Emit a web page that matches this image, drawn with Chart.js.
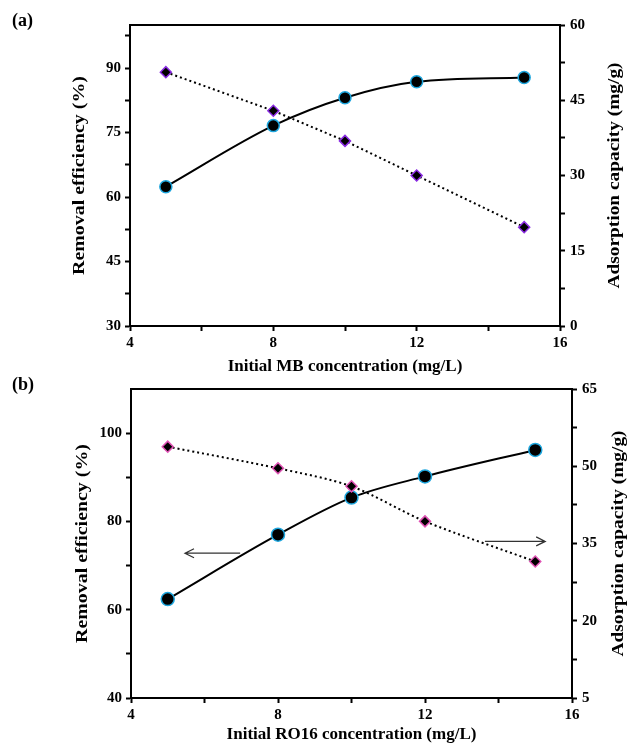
<!DOCTYPE html>
<html>
<head>
<meta charset="UTF-8" />
<title>Removal efficiency and adsorption capacity</title>
<script src="https://cdn.jsdelivr.net/npm/chart.js"></script>
<style>
  body { margin: 0; background: #fff; }
  .panel { position: absolute; left: 0; width: 628px; }
  #panelA { top: 0; height: 375px; }
  #panelB { top: 375px; height: 368px; }
</style>
</head>
<body>
<div class="panel" id="panelA"><canvas id="chartA"></canvas></div>
<div class="panel" id="panelB"><canvas id="chartB"></canvas></div>
<script>
// panel (a) - MB
const concA = [5, 8, 10, 12, 15];
const removalA = [62.4, 76.6, 83.1, 86.8, 87.8];
const capacityA = [50.6, 42.9, 36.9, 30.0, 19.7];

// panel (b) - RO16
const concB = [5, 8, 10, 12, 15];
const removalB = [62.4, 77.0, 85.4, 90.2, 96.2];
const capacityB = [53.8, 49.6, 46.1, 39.3, 31.5];

// ticks (all marks) and the ones that get a label
const xTicks = [4, 6, 8, 10, 12, 14, 16];
const xLabels = [4, 8, 12, 16];
const leftTicksA = [30, 37.5, 45, 52.5, 60, 67.5, 75, 82.5, 90, 97.5];
const leftLabelsA = [30, 45, 60, 75, 90];
const rightTicksA = [0, 7.5, 15, 22.5, 30, 37.5, 45, 52.5, 60];
const rightLabelsA = [0, 15, 30, 45, 60];
const leftTicksB = [40, 50, 60, 70, 80, 90, 100];
const leftLabelsB = [40, 60, 80, 100];
const rightTicksB = [5, 12.5, 20, 27.5, 35, 42.5, 50, 57.5, 65];
const rightLabelsB = [5, 20, 35, 50, 65];

// arrows in (b): [from x, to x, y] (left one on removal axis, right one on capacity axis)
const arrowLeftB = [6.97, 5.47, 72.8];
const arrowRightB = [13.63, 15.27, 35.4];

const FONT = "'Liberation Serif', 'Times New Roman', serif";
const tickFont = { family: FONT, size: 15, weight: 'bold' };
const titleFont = { family: FONT, size: 17, weight: 'bold', lineHeight: 1 };

function axisLine() {
  return { color: '#000', width: 2 };
}
function gridOpts() {
  return { drawOnChartArea: false, tickLength: 5, tickWidth: 2, tickColor: '#000' };
}

// vertical text, stretched a bit along its length like the original figure
function vText(ctx, text, x, y, stretch) {
  ctx.save();
  ctx.translate(x, y);
  ctx.rotate(-Math.PI / 2);
  ctx.scale(stretch, 1);
  ctx.fillText(text, 0, 0);
  ctx.restore();
}

function makePanel(id, p) {
  const extras = {
    id: 'extras',
    afterDraw(chart) {
      const ctx = chart.ctx;
      const a = chart.chartArea;
      const midY = (a.top + a.bottom) / 2;
      ctx.save();
      // top frame line
      ctx.strokeStyle = '#000';
      ctx.lineWidth = 2;
      ctx.beginPath();
      ctx.moveTo(a.left, a.top);
      ctx.lineTo(a.right, a.top);
      ctx.stroke();
      // panel label
      ctx.fillStyle = '#000';
      ctx.font = 'bold 18px ' + FONT;
      ctx.textBaseline = 'middle';
      ctx.textAlign = 'left';
      ctx.fillText(p.label, 12, p.labelY);
      // axis titles
      ctx.font = 'bold 17px ' + FONT;
      ctx.textAlign = 'center';
      vText(ctx, 'Removal efficiency (%)', p.leftTitleX, midY, 1.17);
      vText(ctx, 'Adsorption capacity (mg/g)', p.rightTitleX, midY, 1.14);
      ctx.restore();

      if (p.arrows) {
        const x = chart.scales.x;
        ctx.save();
        ctx.strokeStyle = '#333';
        ctx.lineWidth = 1.3;
        p.arrows.forEach(([x1, x2, yv, axis]) => {
          const y = chart.scales[axis].getPixelForValue(yv);
          const px1 = x.getPixelForValue(x1);
          const px2 = x.getPixelForValue(x2);
          const dir = px2 > px1 ? 1 : -1;
          ctx.beginPath();
          ctx.moveTo(px1, y);
          ctx.lineTo(px2, y);
          ctx.moveTo(px2 - dir * 9, y - 4.5);
          ctx.lineTo(px2, y);
          ctx.lineTo(px2 - dir * 9, y + 4.5);
          ctx.stroke();
        });
        ctx.restore();
      }
    }
  };

  new Chart(document.getElementById(id), {
    type: 'line',
    data: {
      datasets: [
        {
          label: 'Adsorption capacity',
          data: p.conc.map((c, i) => ({ x: c, y: p.capacity[i] })),
          yAxisID: 'y1',
          borderColor: '#000',
          borderWidth: 2,
          borderDash: [2, 3],
          tension: p.capTension,
          pointStyle: 'rectRot',
          pointRadius: 5.5,
          pointBackgroundColor: '#000',
          pointBorderColor: p.diamondBorder,
          pointBorderWidth: 1.5
        },
        {
          label: 'Removal efficiency',
          data: p.conc.map((c, i) => ({ x: c, y: p.removal[i] })),
          yAxisID: 'y',
          borderColor: '#000',
          borderWidth: 2,
          cubicInterpolationMode: 'monotone',
          pointStyle: 'circle',
          pointRadius: p.circleR,
          pointBackgroundColor: '#000',
          pointBorderColor: '#1ea7df',
          pointBorderWidth: 1.5
        }
      ]
    },
    options: {
      responsive: true,
      maintainAspectRatio: false,
      animation: false,
      layout: { padding: { top: p.padTop, left: p.padLeft, right: 0, bottom: 0 } },
      plugins: { legend: { display: false }, tooltip: { enabled: false } },
      scales: {
        x: {
          type: 'linear',
          min: 4,
          max: 16,
          afterBuildTicks: (s) => { s.ticks = xTicks.map((v) => ({ value: v })); },
          afterFit: (s) => { s.height = p.xHeight; },
          ticks: {
            autoSkip: false,
            maxRotation: 0,
            padding: 3,
            color: '#000',
            font: tickFont,
            callback: (v) => (xLabels.includes(v) ? v : '')
          },
          grid: gridOpts(),
          border: axisLine(),
          title: { display: true, text: p.xTitle, color: '#000', font: titleFont, padding: { top: 0, bottom: 0 } }
        },
        y: {
          position: 'left',
          min: p.leftMin,
          max: p.leftMax,
          afterBuildTicks: (s) => { s.ticks = p.leftTicks.map((v) => ({ value: v })); },
          afterFit: (s) => { s.width = p.leftWidth; },
          ticks: {
            autoSkip: false,
            padding: 4,
            color: '#000',
            font: tickFont,
            callback: (v) => (p.leftLabels.includes(v) ? v : '')
          },
          grid: gridOpts(),
          border: axisLine()
        },
        y1: {
          position: 'right',
          min: p.rightMin,
          max: p.rightMax,
          afterBuildTicks: (s) => { s.ticks = p.rightTicks.map((v) => ({ value: v })); },
          afterFit: (s) => { s.width = p.rightWidth; },
          ticks: {
            autoSkip: false,
            padding: 5,
            color: '#000',
            font: tickFont,
            callback: (v) => (p.rightLabels.includes(v) ? v : '')
          },
          grid: gridOpts(),
          border: axisLine()
        }
      }
    },
    plugins: [extras]
  });
}

makePanel('chartA', {
  conc: concA, removal: removalA, capacity: capacityA,
  label: '(a)', labelY: 21,
  xTitle: 'Initial MB concentration (mg/L)',
  leftMin: 30, leftMax: 100, leftTicks: leftTicksA, leftLabels: leftLabelsA,
  rightMin: 0, rightMax: 60, rightTicks: rightTicksA, rightLabels: rightLabelsA,
  padTop: 25, padLeft: 70, leftWidth: 60, rightWidth: 68, xHeight: 49,
  leftTitleX: 80, rightTitleX: 615,
  diamondBorder: '#8a2be2', circleR: 6, capTension: 0
});

makePanel('chartB', {
  conc: concB, removal: removalB, capacity: capacityB,
  label: '(b)', labelY: 10,
  xTitle: 'Initial RO16 concentration (mg/L)',
  leftMin: 40, leftMax: 110, leftTicks: leftTicksB, leftLabels: leftLabelsB,
  rightMin: 5, rightMax: 65, rightTicks: rightTicksB, rightLabels: rightLabelsB,
  padTop: 13, padLeft: 73, leftWidth: 58, rightWidth: 56, xHeight: 45,
  leftTitleX: 83, rightTitleX: 619,
  diamondBorder: '#e052b4', circleR: 6.5, capTension: 0.3,
  arrows: [[...arrowLeftB, 'y'], [...arrowRightB, 'y1']]
});
</script>
</body>
</html>
